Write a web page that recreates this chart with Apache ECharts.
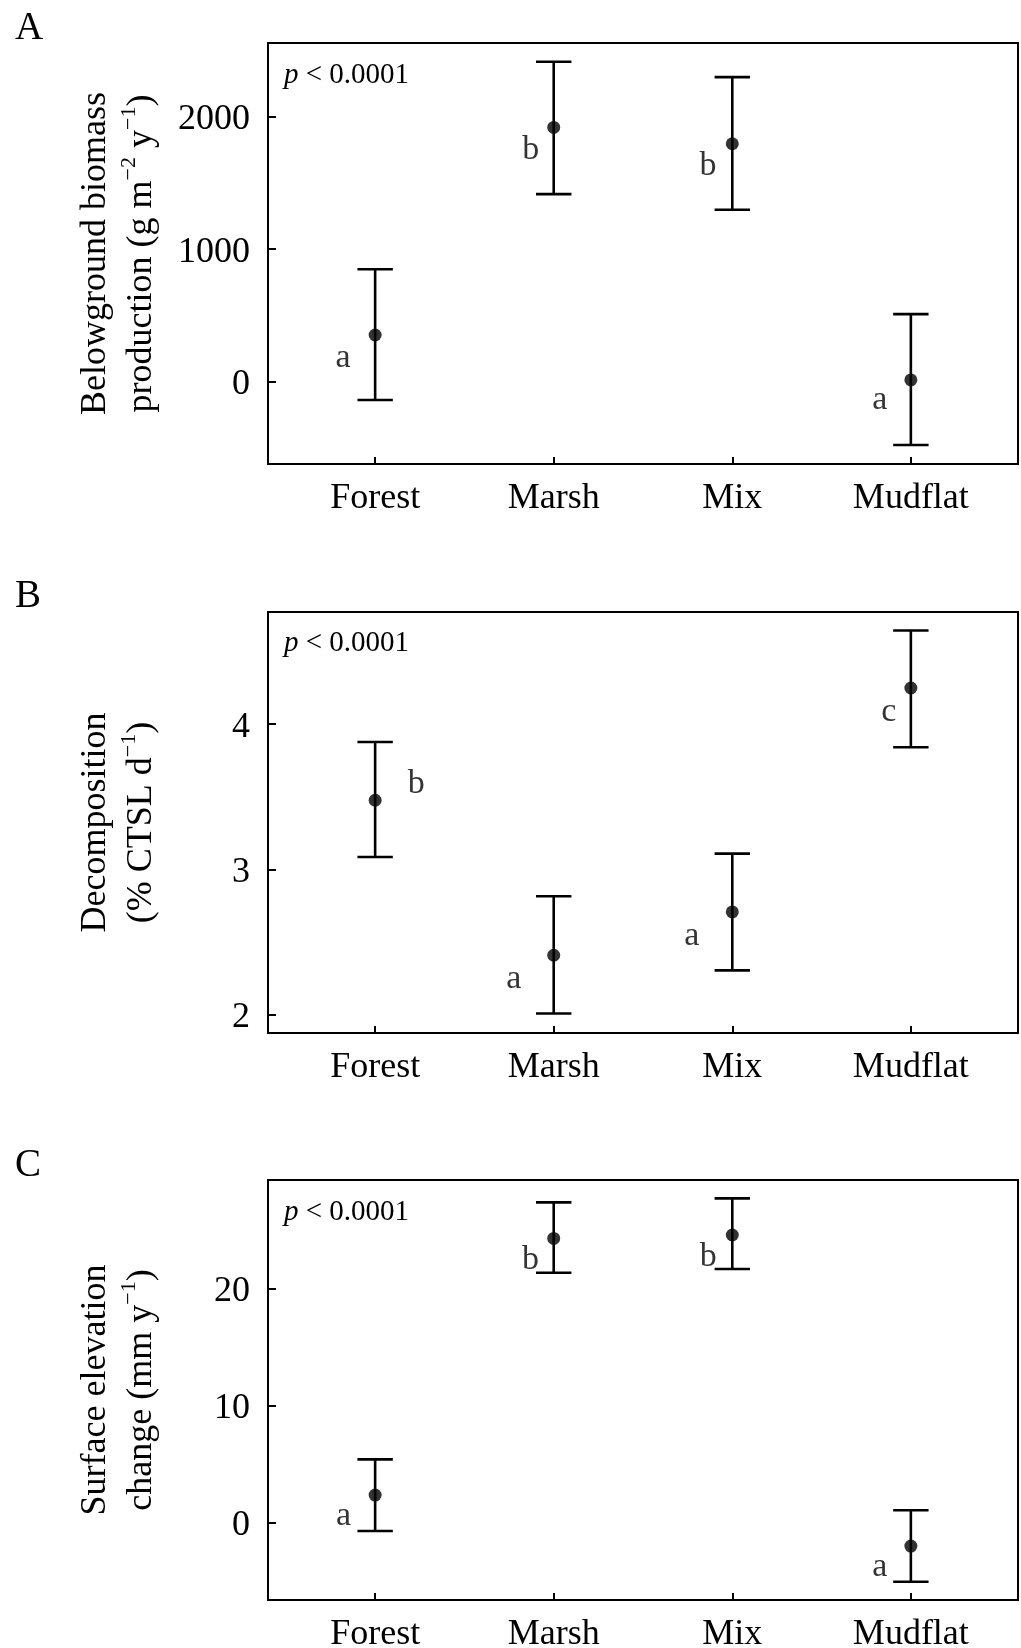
<!DOCTYPE html>
<html><head><meta charset="utf-8">
<script src="https://cdn.jsdelivr.net/npm/echarts@6/dist/echarts.min.js"></script>
<style>html,body{margin:0;padding:0;background:#fff}#c{width:1021px;height:1648px}</style>
</head><body><div id="c"></div>
<script>
// ---------- data ----------
const categories = ['Forest', 'Marsh', 'Mix', 'Mudflat'];
const categoryPos = [1, 2, 3, 4];

// Panel A: belowground biomass production (g m-2 y-1)
const bgpMean  = [352, 1917, 1794, 13];
const bgpLower = [-138, 1414, 1296, -478];
const bgpUpper = [848, 2413, 2297, 509];
const bgpLetters = ['a', 'b', 'b', 'a'];
const bgpTicks = [0, 1000, 2000];

// Panel B: decomposition (% CTSL d-1)
const decMean  = [3.476, 2.407, 2.706, 4.25];
const decLower = [3.085, 2.005, 2.303, 3.841];
const decUpper = [3.878, 2.814, 3.108, 4.646];
const decLetters = ['b', 'a', 'a', 'c'];
const decTicks = [2, 3, 4];

// Panel C: surface elevation change (mm y-1)
const secMean  = [2.33, 24.27, 24.56, -2.03];
const secLower = [-0.74, 21.33, 21.65, -5.08];
const secUpper = [5.38, 27.35, 27.69, 1.03];
const secLetters = ['a', 'b', 'b', 'a'];
const secTicks = [0, 10, 20];

const pText = 'p < 0.0001';

// ---------- styling / layout ----------
const FONT = '"Liberation Serif", "Times New Roman", Times, serif';
const letterOffsets = [
  [[-32, 23.5], [-23, 22.3], [-24.3, 22.3], [-31, 20.5]],
  [[41.2, -16.2], [-40, 24], [-40.6, 24], [-22, 24]],
  [[-31.7, 21.3], [-23.3, 21.7], [-24, 22.2], [-31, 21.1]]
];
const grids = [
  { left: 268, top: 43, width: 750, height: 421 },
  { left: 268, top: 612, width: 750, height: 421 },
  { left: 268, top: 1180, width: 750, height: 420 }
];
const yRanges = [[-621, 2554], [1.871, 4.774], [-6.64, 29.26]];
const yNames = [
  '{n|Belowground biomass}\n{n|production (g m}{s|−2}{n| y}{s|−1}{n|)}',
  '{n|Decomposition}\n{n|(% CTSL d}{s|−1}{n|)}',
  '{n|Surface elevation}\n{n|change (mm y}{s|−1}{n|)}'
];
const panels = [
  { mean: bgpMean, lo: bgpLower, hi: bgpUpper, letters: bgpLetters, ticks: bgpTicks },
  { mean: decMean, lo: decLower, hi: decUpper, letters: decLetters, ticks: decTicks },
  { mean: secMean, lo: secLower, hi: secUpper, letters: secLetters, ticks: secTicks }
];
const panelTags = ['A', 'B', 'C'];
const tagPos = [[15, 29], [15, 596.5], [15, 1166]];
const pPos = [[284, 75], [284, 643], [284, 1212]];

function renderErr(params, api) {
  const x = api.value(0), lo = api.value(1), hi = api.value(2);
  const a = api.coord([x, hi]), b = api.coord([x, lo]);
  const hw = 17.7;
  const st = { stroke: '#000', lineWidth: 2.6 };
  return {
    type: 'group', children: [
      { type: 'line', shape: { x1: a[0], y1: a[1], x2: b[0], y2: b[1] }, style: st },
      { type: 'line', shape: { x1: a[0] - hw, y1: a[1], x2: a[0] + hw, y2: a[1] }, style: st },
      { type: 'line', shape: { x1: b[0] - hw, y1: b[1], x2: b[0] + hw, y2: b[1] }, style: st }
    ]
  };
}

const option = {
  backgroundColor: '#fff',
  animation: false,
  grid: grids.map(g => Object.assign({
    show: true, borderColor: '#000', borderWidth: 2, backgroundColor: 'transparent',
    containLabel: false, outerBoundsMode: 'none'
  }, g)),
  xAxis: panels.map((p, i) => ({
    type: 'value', gridIndex: i, min: 0.4, max: 4.6,
    splitLine: { show: false }, axisLine: { show: false, onZero: false },
    axisTick: { show: true, inside: true, length: 7, customValues: categoryPos, lineStyle: { color: '#000', width: 2 } },
    axisLabel: { customValues: categoryPos, formatter: v => categories[Math.round(v) - 1], margin: 17,
      fontSize: 36, fontFamily: FONT, color: '#000' }
  })),
  yAxis: panels.map((p, i) => ({
    type: 'value', gridIndex: i, min: yRanges[i][0], max: yRanges[i][1],
    splitLine: { show: false }, axisLine: { show: false, onZero: false },
    axisTick: { show: true, inside: true, length: 8, customValues: p.ticks, lineStyle: { color: '#000', width: 2 } },
    axisLabel: { customValues: p.ticks, formatter: v => '{v|' + String(v) + '}', margin: 18,
      fontSize: 36, fontFamily: FONT, color: '#000',
      rich: { v: { fontSize: 36, fontFamily: FONT, color: '#000', padding: [6, 0, 0, 0] } } },
    name: yNames[i], nameLocation: 'middle', nameRotate: 90, nameGap: 103.5,
    nameTextStyle: {
      fontFamily: FONT, fontSize: 36, color: '#000', lineHeight: 46, align: 'center',
      rich: {
        n: { fontFamily: FONT, fontSize: 36, color: '#000', lineHeight: 46 },
        s: { fontFamily: FONT, fontSize: 22, color: '#000', lineHeight: 24, verticalAlign: 'top' }
      }
    }
  })),
  series: [],
  graphic: []
};

panels.forEach((p, i) => {
  option.series.push({
    type: 'custom', xAxisIndex: i, yAxisIndex: i, renderItem: renderErr,
    encode: { x: 0, y: [1, 2] }, z: 2,
    data: categoryPos.map((x, k) => [x, p.lo[k], p.hi[k]])
  });
  option.series.push({
    type: 'scatter', xAxisIndex: i, yAxisIndex: i, symbol: 'circle', symbolSize: 13, z: 3,
    itemStyle: { color: '#000' },
    data: categoryPos.map((x, k) => [x, p.mean[k]])
  });
  option.series.push({
    type: 'scatter', xAxisIndex: i, yAxisIndex: i, symbolSize: 0, z: 4, silent: true,
    data: categoryPos.map((x, k) => ({
      value: [x, p.mean[k]],
      label: { offset: letterOffsets[i][k] }
    })),
    label: {
      show: true, position: 'inside', fontFamily: FONT, fontSize: 34, color: '#000',
      formatter: prm => p.letters[prm.dataIndex]
    }
  });
  option.graphic.push({
    type: 'text', x: tagPos[i][0], y: tagPos[i][1],
    style: { text: panelTags[i], fontFamily: FONT, fontSize: 39, fill: '#000', align: 'left', verticalAlign: 'middle' }
  });
  const parts = pText.split(' ');
  option.graphic.push({
    type: 'text', x: pPos[i][0], y: pPos[i][1],
    style: {
      text: '{i|' + parts[0] + '}{n| ' + parts[1] + ' ' + parts[2] + '}',
      align: 'left', verticalAlign: 'middle',
      rich: {
        i: { fontFamily: FONT, fontSize: 29, fontStyle: 'italic', fill: '#000' },
        n: { fontFamily: FONT, fontSize: 29, fill: '#000' }
      }
    }
  });
});

const chart = echarts.init(document.getElementById('c'), null, { renderer: 'canvas' });
chart.setOption(option);
</script>
</body></html>
